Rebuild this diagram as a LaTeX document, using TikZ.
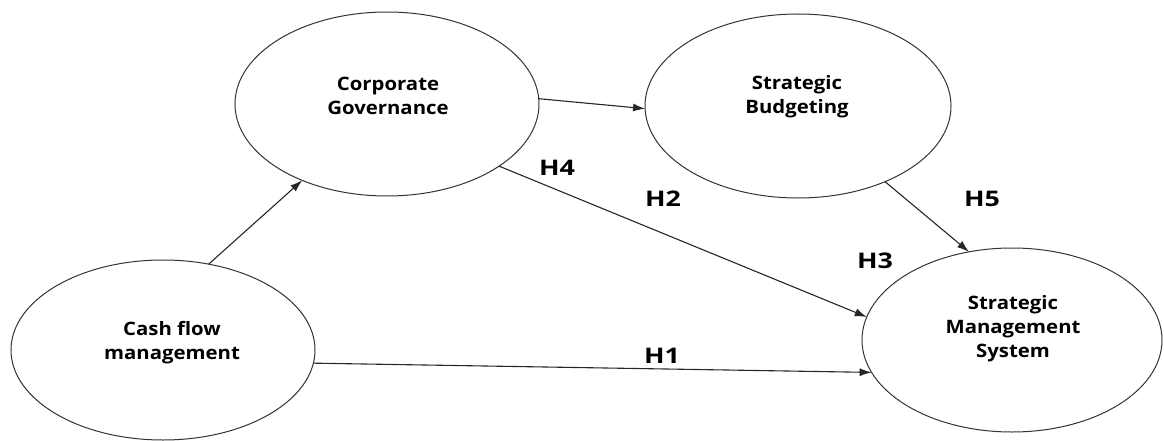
\documentclass[tikz,border=0pt]{standalone}
\usepackage{fontspec}
\setmainfont{Open Sans}
\newfontfamily\boxfont[FakeStretch=1.1]{Open Sans}
\newfontfamily\hypfont[FakeStretch=1.25]{Open Sans}
\usetikzlibrary{arrows.meta,shapes.geometric}
\begin{document}
\begin{tikzpicture}[x=1pt,y=-1pt,
  oval/.style={ellipse,draw=black!80,line width=1pt,outer sep=0pt,inner sep=0pt},
  txt/.style={font=\boxfont\bfseries\fontsize{18.5}{24}\selectfont,align=center,text=black,inner sep=0pt},
  hyp/.style={font=\hypfont\bfseries\fontsize{21.5}{24}\selectfont,text=black,inner sep=0pt},
  arr/.style={draw=black!85,line width=1.1pt,-{Latex[length=12pt,width=8pt]}}]
\useasboundingbox (0,0) rectangle (1164,441);
\node[oval,minimum width=304pt,minimum height=180pt] (cf) at (163,350) {};
\node[oval,minimum width=304pt,minimum height=184pt] (cg) at (387,104) {};
\node[oval,minimum width=306pt,minimum height=184pt] (sb) at (798,106) {};
\node[oval,minimum width=300pt,minimum height=184pt] (sms) at (1012,340) {};
\node[txt] (cft) at (172,343) {Cash flow\\management};
\node[txt] (cgt) at (388,96) {Corporate\\Governance};
\node[txt] (sbt) at (797,97) {Strategic\\Budgeting};
\node[txt] (smst) at (1013,329) {Strategic\\Management\\System};
\draw[arr] (cf.62.6) -- (cg.222.2);
\draw[arr] (cg.2) -- (sb.181);
\draw[arr] (cg.331.9) -- (sms.171.6);
\draw[arr] (sb.319.1) -- (sms.116.6);
\draw[arr] (cf.355) -- (sms.193.7);
\node[hyp] (h4) at (557,168) {H4};
\node[hyp] (h2) at (663,199) {H2};
\node[hyp] (h3) at (875,261) {H3};
\node[hyp] (h5) at (982,199) {H5};
\node[hyp] (h1) at (662,356) {H1};
\end{tikzpicture}
\end{document}
